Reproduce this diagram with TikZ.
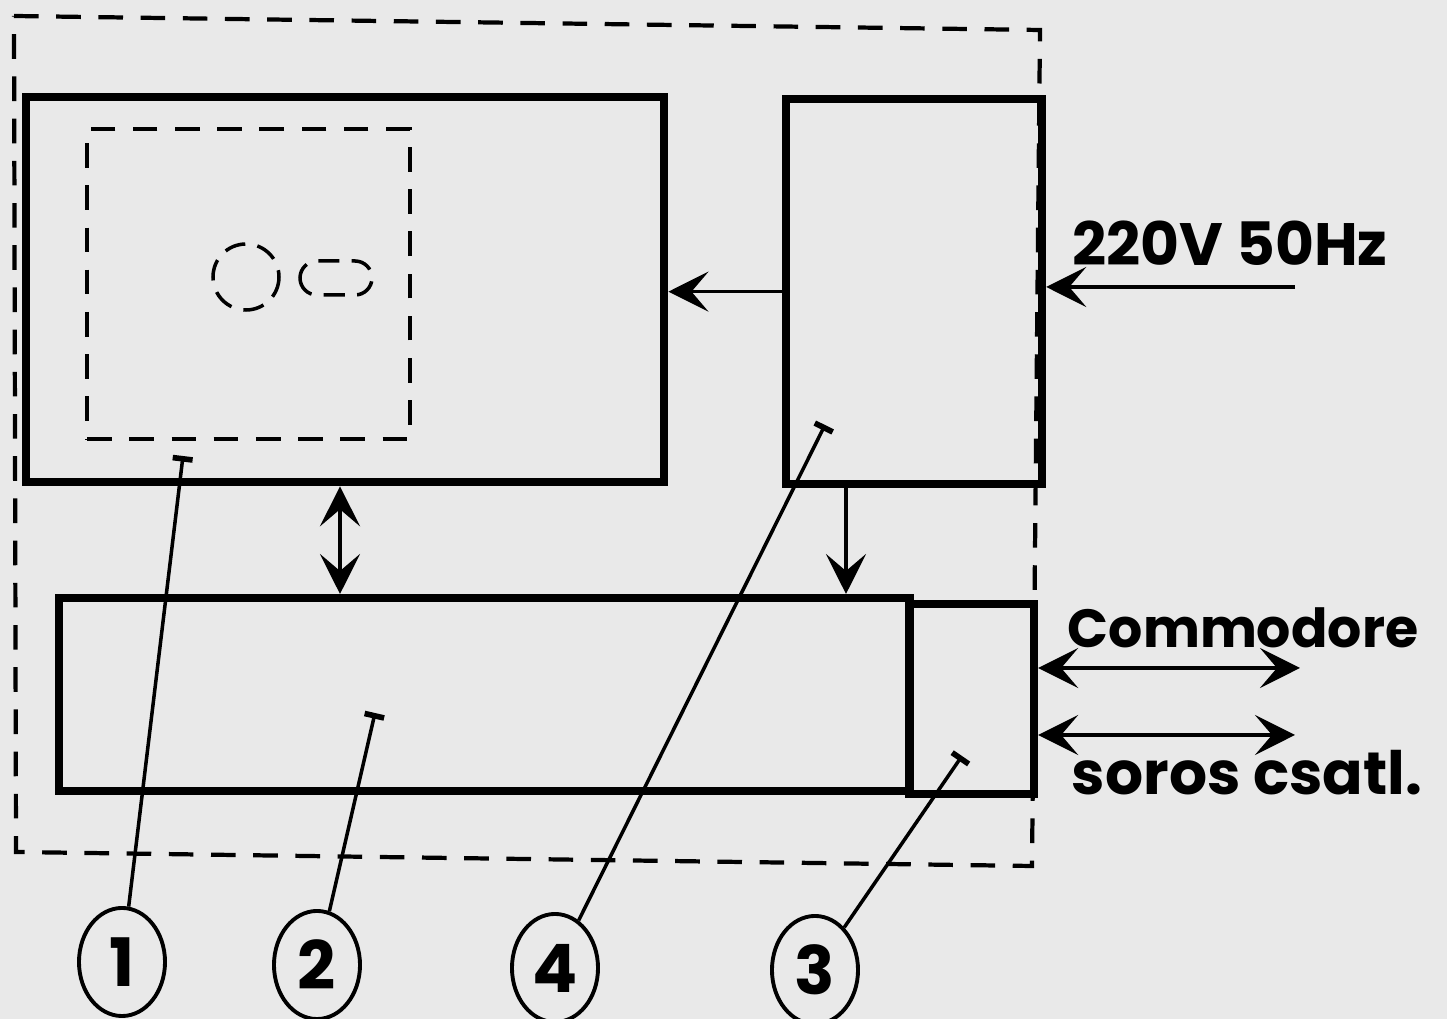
\documentclass[tikz,border=0pt]{standalone}
\usepackage{fontspec}
\setmainfont{Poppins}
\usetikzlibrary{arrows.meta,shapes.geometric}
\definecolor{paper}{RGB}{233,233,233}

\begin{document}
\begin{tikzpicture}[x=0.01cm,y=-0.01cm,
    font=\bfseries\fontsize{17}{19}\selectfont,
    >={Stealth[length=0.4cm,width=0.4cm,inset=0.17cm]},
    box/.style={draw,line width=2.3pt,anchor=north west,inner sep=0pt},
    dsh/.style={draw,line width=1.2pt,dash pattern=on 7pt off 5pt},
    arr/.style={line width=1pt},
    lead/.style={line width=1pt,-{Bar[width=0.2cm,line width=1.6pt]}},
    num/.style={draw,ellipse,line width=1.1pt,minimum width=0.86cm,minimum height=1.08cm,inner sep=0pt,font=\bfseries\fontsize{19}{21}\selectfont}]
    \fill[paper] (0,0) rectangle (1447,1019);
    \useasboundingbox (0,0) rectangle (1447,1019);
    % outer frame
    \draw[dsh] (14,16) -- (1040,30) -- (1032,866) -- (16,852) -- cycle;
    % units
    \node[box,minimum width=6.38cm,minimum height=3.85cm] (b1) at (22,93) {};
    \node[dsh,anchor=north west,minimum width=3.23cm,minimum height=3.1cm] (scr) at (85,127) {};
    \draw[dsh,line width=1pt,dash pattern=on 6pt off 3.5pt] (246,277) circle [radius=33];
    \draw[dsh,line width=1pt,dash pattern=on 6pt off 3.5pt,rounded corners=0.17cm] (300,261) rectangle (372,295);
    \node[box,minimum width=2.56cm,minimum height=3.85cm] (b4) at (782,95) {};
    \node[box,minimum width=8.5cm,minimum height=1.93cm] (b2) at (55,594) {};
    \node[box,minimum width=1.25cm,minimum height=1.9cm] (b3) at (905,600) {};
    % connections
    \coordinate (v1) at (340,0);
    \coordinate (v2) at (846,0);
    \coordinate (in) at (1295,287);
    \coordinate (cm1) at (1300,668);
    \coordinate (cm2) at (1295,735);
    \draw[arr,->] (b4.west) -- (b4.west -| b1.east);
    \draw[arr,->] (in) -- (in -| b4.east);
    \draw[arr,<->] (b1.south -| v1) -- (b2.north -| v1);
    \draw[arr,->] (b4.south -| v2) -- (b2.north -| v2);
    \draw[arr,<->] (cm1 -| b3.east) -- (cm1);
    \draw[arr,<->] (cm2 -| b3.east) -- (cm2);
    % labels
    \node (pwr) at (1230,243) {220V 50Hz};
    \node[font=\bfseries\fontsize{15.3}{17}\selectfont] (cbm) at (1243,628) {Commodore};
    \node (ser) at (1247,773) {soros csatl.};
    % callouts
    \node[num] (n1) at (122,962) {1};
    \node[num] (n2) at (317,965) {2};
    \node[num] (n4) at (555,968) {4};
    \node[num] (n3) at (815,970) {3};
    \coordinate (t1) at (183,456);
    \coordinate (t2) at (375,713);
    \coordinate (t4) at (825,425);
    \coordinate (t3) at (962,756);
    \draw[lead] (n1) -- (t1);
    \draw[lead] (n2) -- (t2);
    \draw[lead] (n4) -- (t4);
    \draw[lead] (n3) -- (t3);
  \end{tikzpicture}
\end{document}
